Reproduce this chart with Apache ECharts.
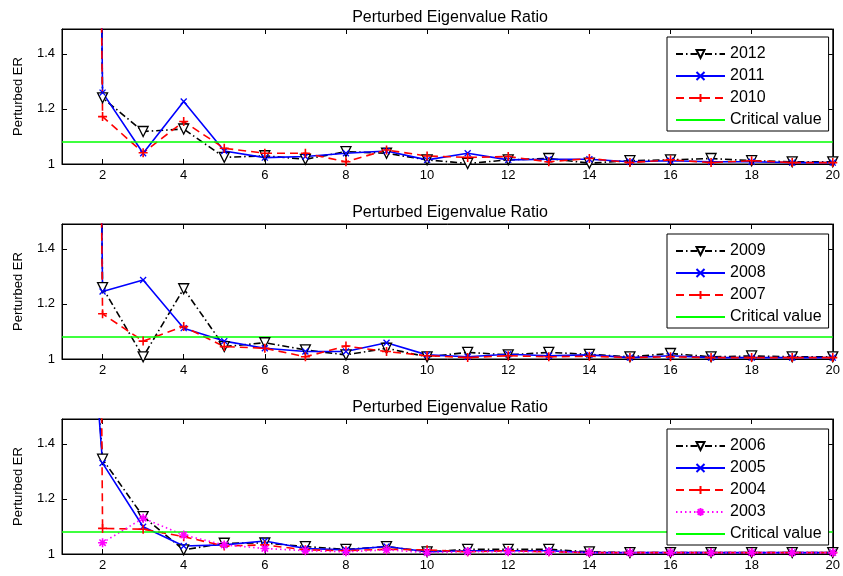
<!DOCTYPE html>
<html>
<head>
<meta charset="utf-8">
<script src="https://cdn.jsdelivr.net/npm/echarts@6/dist/echarts.min.js"></script>
<style>
  html, body { margin: 0; padding: 0; background: #fff; }
  #chart { width: 843px; height: 576px; }
</style>
</head>
<body>
<div id="chart"></div>
<script>
// eigenvalue index on the x axis
const categories = ['1', '2', '3', '4', '5', '6', '7', '8', '9', '10',
  '11', '12', '13', '14', '15', '16', '17', '18', '19', '20'];
const criticalValue = 1.08;
const yTicks = { min: 1, max: 1.49, interval: 0.2 };

// top panel
const er2012 = [15, 1.24, 1.118, 1.127, 1.024, 1.03, 1.017, 1.045, 1.039, 1.015, 1.002, 1.015, 1.02, 1.003, 1.012, 1.015, 1.02, 1.012, 1.008, 1.008];
const er2011 = [15, 1.259, 1.039, 1.227, 1.047, 1.023, 1.027, 1.039, 1.047, 1.015, 1.039, 1.015, 1.017, 1.017, 1.008, 1.012, 1.008, 1.008, 1.005, 1.005];
const er2010 = [15, 1.172, 1.041, 1.154, 1.057, 1.039, 1.039, 1.008, 1.051, 1.029, 1.024, 1.027, 1.008, 1.02, 1.005, 1.015, 1.005, 1.012, 1.005, 1.005];

// middle panel
const er2009 = [15, 1.259, 1.008, 1.255, 1.045, 1.059, 1.033, 1.015, 1.039, 1.008, 1.024, 1.015, 1.024, 1.017, 1.008, 1.02, 1.008, 1.011, 1.008, 1.008];
const er2008 = [15, 1.245, 1.287, 1.112, 1.065, 1.039, 1.027, 1.027, 1.059, 1.015, 1.008, 1.017, 1.012, 1.015, 1.005, 1.012, 1.005, 1.005, 1.005, 1.005];
const er2007 = [15, 1.164, 1.065, 1.118, 1.045, 1.039, 1.008, 1.047, 1.027, 1.012, 1.005, 1.012, 1.008, 1.01, 1.005, 1.008, 1.005, 1.005, 1.005, 1.005];

// bottom panel
const er2006 = [3.4, 1.344, 1.136, 1.015, 1.039, 1.04, 1.027, 1.017, 1.027, 1.008, 1.017, 1.017, 1.017, 1.008, 1.005, 1.005, 1.005, 1.005, 1.005, 1.005];
const er2005 = [3.3, 1.33, 1.099, 1.029, 1.033, 1.047, 1.02, 1.015, 1.027, 1.008, 1.012, 1.012, 1.012, 1.005, 1.005, 1.005, 1.005, 1.005, 1.005, 1.005];
const er2004 = [20, 1.093, 1.09, 1.063, 1.029, 1.033, 1.015, 1.012, 1.017, 1.015, 1.008, 1.012, 1.008, 1.005, 1.005, 1.005, 1.005, 1.005, 1.005, 1.005];
const er2003 = [null, 1.041, 1.13, 1.069, 1.033, 1.02, 1.012, 1.008, 1.015, 1.005, 1.008, 1.008, 1.008, 1.005, 1.005, 1.005, 1.005, 1.005, 1.005, 1.005];

const FONT = '"Liberation Sans", Arial, Helvetica, sans-serif';

// matlab-ish markers
const TRI = 'path://M0,0 L10,0 L5,9 Z';
const CROSS = 'path://M0,0 L10,10 M10,0 L0,10';
const PLUS = 'path://M5,0 L5,10 M0,5 L10,5';
const STAR = 'path://M5,0 L5,10 M0,5 L10,5 M1.5,1.5 L8.5,8.5 M8.5,1.5 L1.5,8.5';

const styles = {
  black: { color: '#000', type: [7, 3, 1.5, 3], symbol: TRI, size: 10, fill: '#fff', bw: 1.3 },
  blue: { color: '#0000ff', type: 'solid', symbol: CROSS, size: 6, fill: '#0000ff', bw: 1.3 },
  red: { color: '#ff0000', type: [8, 5], symbol: PLUS, size: 9, fill: '#ff0000', bw: 1.6 },
  magenta: { color: '#ff00ff', type: [1.5, 3], symbol: STAR, size: 9, fill: '#ff00ff', bw: 1.6 }
};

const panels = [
  { top: 29, titleTop: 5, legendTop: 37, lines: [['2012', er2012, 'black'], ['2011', er2011, 'blue'], ['2010', er2010, 'red']] },
  { top: 224, titleTop: 200, legendTop: 234, lines: [['2009', er2009, 'black'], ['2008', er2008, 'blue'], ['2007', er2007, 'red']] },
  { top: 419, titleTop: 395, legendTop: 429, lines: [['2006', er2006, 'black'], ['2005', er2005, 'blue'], ['2004', er2004, 'red'], ['2003', er2003, 'magenta']] }
];

const evenOnly = (idx) => idx % 2 === 1;

const option = {
  animation: false,
  textStyle: { fontFamily: FONT },
  title: [], grid: [], xAxis: [], yAxis: [], legend: [], series: []
};

panels.forEach((p, i) => {
  option.title.push({
    text: 'Perturbed Eigenvalue Ratio',
    left: 445, top: p.titleTop, textAlign: 'center',
    textStyle: { fontFamily: FONT, fontSize: 16, fontWeight: 'normal', color: '#000' }
  });
  option.grid.push({
    left: 62, right: 9, top: p.top, height: 135,
    show: true, borderColor: '#000', borderWidth: 1, backgroundColor: '#fff'
  });
  const xBase = {
    type: 'category', data: categories, boundaryGap: false, gridIndex: i,
    axisLine: { show: true, lineStyle: { color: '#000', width: 1 } },
    axisTick: { inside: true, length: 5, interval: evenOnly, lineStyle: { color: '#000' } },
    splitLine: { show: false }
  };
  option.xAxis.push(Object.assign({}, xBase, {
    position: 'bottom',
    axisLabel: { interval: evenOnly, margin: 5, fontFamily: FONT, fontSize: 13, color: '#000' }
  }));
  option.xAxis.push(Object.assign({}, xBase, { position: 'top', axisLabel: { show: false } }));
  const yBase = {
    type: 'value', gridIndex: i, min: yTicks.min, max: yTicks.max, interval: yTicks.interval,
    axisLine: { show: true, lineStyle: { color: '#000', width: 1 } },
    axisTick: { show: true, inside: true, length: 5, lineStyle: { color: '#000' } },
    splitLine: { show: false }
  };
  option.yAxis.push(Object.assign({}, yBase, {
    position: 'left',
    name: 'Perturbed ER', nameLocation: 'middle', nameGap: 37,
    nameTextStyle: { fontFamily: FONT, fontSize: 13, color: '#000' },
    axisLabel: { showMaxLabel: false, margin: 7, fontFamily: FONT, fontSize: 13, color: '#000' }
  }));
  option.yAxis.push(Object.assign({}, yBase, { position: 'right', axisLabel: { show: false } }));

  const names = [];
  p.lines.forEach(([name, values, key]) => {
    const s = styles[key];
    names.push(name);
    option.series.push({
      name, type: 'line', data: values,
      xAxisIndex: 2 * i, yAxisIndex: 2 * i,
      clip: true,
      symbol: s.symbol, symbolSize: s.size, showSymbol: true,
      lineStyle: { color: s.color, width: 1.6, type: s.type },
      itemStyle: { color: s.fill, borderColor: s.color, borderWidth: s.bw },
      emphasis: { disabled: true }
    });
  });
  names.push('Critical value');
  option.series.push({
    name: 'Critical value', type: 'line',
    data: categories.map(() => criticalValue),
    xAxisIndex: 2 * i, yAxisIndex: 2 * i,
    symbol: 'circle', showSymbol: false,
    lineStyle: { color: '#00ff00', width: 1.6, type: 'solid' },
    itemStyle: { color: 'rgba(0,0,0,0)', borderColor: 'rgba(0,0,0,0)' },
    emphasis: { disabled: true }
  });

  option.legend.push({
    data: names, orient: 'vertical',
    left: 667, top: p.legendTop,
    itemWidth: 49, itemHeight: 10, itemGap: 6,
    padding: [9, 7, 3, 8],
    borderColor: '#000', borderWidth: 1, backgroundColor: '#fff',
    selectedMode: false,
    textStyle: { fontFamily: FONT, fontSize: 16, color: '#000' }
  });
});

const chart = echarts.init(document.getElementById('chart'), null, { renderer: 'canvas' });
chart.setOption(option);
</script>
</body>
</html>
